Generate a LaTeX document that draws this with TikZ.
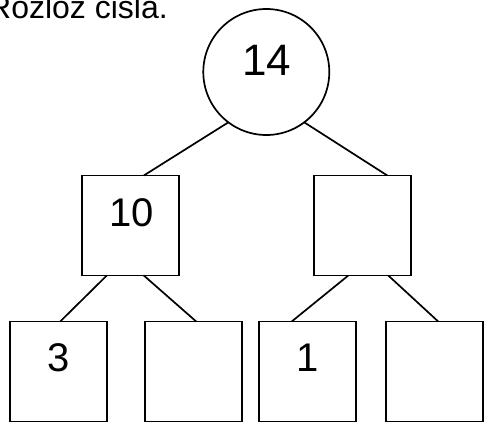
\documentclass[tikz,border=0pt]{standalone}
\usepackage{fontspec}
\setmainfont{Liberation Sans}
\begin{document}
\begin{tikzpicture}[x=1pt,y=-1pt,
  ln/.style={line width=1.7pt},
  numbox/.style={draw,ln,rectangle,minimum width=97pt,minimum height=100pt,inner sep=0pt,outer sep=0pt},
  numtxt/.style={inner sep=0pt,anchor=base,font=\fontsize{40}{48}\selectfont},
  link/.style={ln}]
\useasboundingbox (0,0) rectangle (484,423);
\node[inner sep=0pt,anchor=base west,font=\fontsize{32}{38}\selectfont] (title) at (-12,18.5) {Rozlož čisla.};
\node[draw,ln,circle,minimum size=126pt,inner sep=0pt,outer sep=0pt] (c) at (266.3,72) {};
\node[inner sep=0pt,anchor=base,font=\fontsize{44}{52}\selectfont] (t14) at (266.5,75) {14};
\node[numbox] (m1) at (130.8,225.5) {};
\node[numbox] (m2) at (362.8,225.5) {};
\node[numbox] (b1) at (58.7,371.5) {};
\node[numbox] (b2) at (193.2,371.5) {};
\node[numbox] (b3) at (307.2,371.5) {};
\node[numbox] (b4) at (434.7,371.5) {};
\node[numtxt] (t10) at (131.5,226) {10};
\node[numtxt] (t3) at (59,371) {3};
\node[numtxt] (t1) at (307.5,371) {1};
\draw[link] (c.233) -- ([xshift=13pt]m1.north);
\draw[link] (c.307) -- ([xshift=24.5pt]m2.north);
\draw[link] ([xshift=-24pt]m1.south) -- ([xshift=1.5pt]b1.north);
\draw[link] ([xshift=13pt]m1.south) -- ([xshift=3pt]b2.north);
\draw[link] ([xshift=-14.5pt]m2.south) -- ([xshift=-15.5pt]b3.north);
\draw[link] ([xshift=25.5pt]m2.south) -- ([xshift=3.5pt]b4.north);
\end{tikzpicture}
\end{document}
